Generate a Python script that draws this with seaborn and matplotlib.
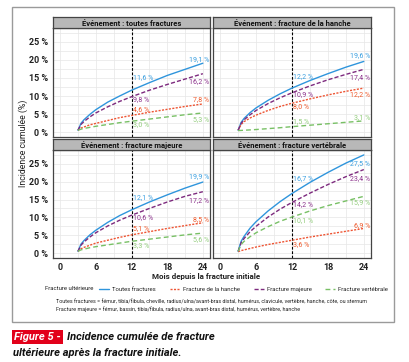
import numpy as np
import pandas as pd
import matplotlib
matplotlib.use("Agg")
import matplotlib.pyplot as plt
import seaborn as sns
from matplotlib.lines import Line2D
from matplotlib.patches import Rectangle

# months since the initial fracture
mois = [3, 3.5, 4, 5, 6, 8, 10, 12, 15, 18, 21, 24]

evenements = ["toutes fractures", "fracture de la hanche",
              "fracture majeure", "fracture vertébrale"]
series = ["Toutes fractures", "Fracture de la hanche",
          "Fracture majeure", "Fracture vertébrale"]

# Événement : toutes fractures
tf_toutes = [0.5, 2.4, 3.4, 4.9, 6.2, 8.3, 10.0, 11.6, 13.7, 15.7, 17.4, 19.1]
tf_hanche = [0.5, 1.1, 1.4, 2.0, 2.4, 3.2, 4.0, 4.6, 5.5, 6.3, 7.1, 7.8]
tf_majeure = [0.5, 2.1, 2.9, 4.2, 5.3, 7.0, 8.5, 9.8, 11.6, 13.2, 14.7, 16.2]
tf_vertebrale = [0.5, 0.8, 1.0, 1.3, 1.6, 2.1, 2.6, 3.0, 3.6, 4.2, 4.8, 5.3]
# Événement : fracture de la hanche
fh_toutes = [0.5, 2.7, 3.8, 5.4, 6.7, 8.8, 10.6, 12.2, 14.3, 16.2, 18.0, 19.6]
fh_hanche = [0.5, 2.1, 2.9, 3.9, 4.7, 6.0, 7.1, 8.0, 9.2, 10.3, 11.3, 12.2]
fh_majeure = [0.5, 2.4, 3.4, 4.8, 6.0, 7.9, 9.5, 10.9, 12.8, 14.5, 16.0, 17.4]
fh_vertebrale = [0.4, 0.45, 0.5, 0.6, 0.7, 0.95, 1.2, 1.5, 1.9, 2.3, 2.7, 3.1]
# Événement : fracture majeure
fm_toutes = [0.5, 2.5, 3.5, 5.1, 6.4, 8.6, 10.5, 12.1, 14.3, 16.3, 18.2, 19.9]
fm_hanche = [0.5, 1.2, 1.6, 2.2, 2.8, 3.6, 4.4, 5.1, 6.0, 6.9, 7.7, 8.5]
fm_majeure = [0.5, 2.2, 3.1, 4.5, 5.7, 7.6, 9.2, 10.6, 12.5, 14.3, 15.9, 17.2]
fm_vertebrale = [0.5, 0.9, 1.1, 1.5, 1.8, 2.3, 2.8, 3.3, 3.9, 4.5, 5.1, 5.6]
# Événement : fracture vertébrale
fv_toutes = [0.5, 3.3, 4.7, 7.0, 8.8, 11.8, 14.4, 16.7, 19.8, 22.6, 25.2, 27.5]
fv_hanche = [0.4, 0.7, 0.9, 1.3, 1.7, 2.4, 3.0, 3.6, 4.5, 5.3, 6.1, 6.9]
fv_majeure = [0.5, 2.9, 4.1, 6.0, 7.5, 10.1, 12.3, 14.2, 16.8, 19.2, 21.4, 23.4]
fv_vertebrale = [0.5, 2.4, 3.3, 4.6, 5.7, 7.4, 8.9, 10.1, 11.8, 13.3, 14.6, 15.9]

panel_data = {
    "toutes fractures": [tf_toutes, tf_hanche, tf_majeure, tf_vertebrale],
    "fracture de la hanche": [fh_toutes, fh_hanche, fh_majeure, fh_vertebrale],
    "fracture majeure": [fm_toutes, fm_hanche, fm_majeure, fm_vertebrale],
    "fracture vertébrale": [fv_toutes, fv_hanche, fv_majeure, fv_vertebrale],
}

rows = []
for ev, vals in panel_data.items():
    for s, v in zip(series, vals):
        for m, y in zip(mois, v):
            rows.append({"evenement": ev, "serie": s, "mois": m, "incidence": y})
df = pd.DataFrame(rows)

# label offsets (dy at 12 months, dy at 24 months), in % points
label_nudge = {
    "toutes fractures": [(3.4, 1.1), (1.7, 1.1), (-0.9, -2.2), (-1.0, -1.8)],
    "fracture de la hanche": [(3.3, 1.5), (-0.9, -1.8), (-0.5, -2.2), (1.5, 0.8)],
    "fracture majeure": [(3.3, 1.4), (1.8, 1.0), (-0.8, -2.4), (-1.2, -1.8)],
    "fracture vertébrale": [(4.2, -2.5), (-1.1, 0.8), (-0.6, -2.5), (-0.9, -1.9)],
}

palette = {"Toutes fractures": "#2f95dc", "Fracture de la hanche": "#ee5534",
           "Fracture majeure": "#7d2a7e", "Fracture vertébrale": "#78c065"}
text_colors = {"Toutes fractures": "#3a9fe0", "Fracture de la hanche": "#ef5a2c",
               "Fracture majeure": "#8a2f8a", "Fracture vertébrale": "#92cc7c"}
dashes = {"Toutes fractures": "", "Fracture de la hanche": (1.5, 1.0),
          "Fracture majeure": (3, 1.5), "Fracture vertébrale": (3.5, 2.2)}

sns.set_theme(style="white")
plt.rcParams["font.family"] = ["Roboto", "DejaVu Sans"]

W, H = 409, 362
fig = plt.figure(figsize=(W / 100, H / 100), dpi=100)


def box(l, t, r, b):
    return [l / W, 1 - b / H, (r - l) / W, (b - t) / H]


positions = [(53, 28, 210, 137), (213, 28, 371, 137),
             (53, 150, 210, 258), (213, 150, 371, 258)]

for i, ev in enumerate(evenements):
    l, t, r, b = positions[i]
    ax = fig.add_axes(box(l, t, r, b))
    sub = df[df["evenement"] == ev]
    sns.lineplot(data=sub, x="mois", y="incidence", hue="serie", style="serie",
                 hue_order=series, style_order=series, palette=palette,
                 dashes=dashes, linewidth=1.0, legend=False, ax=ax)
    ax.axvline(12, color="black", lw=0.8, ls=(0, (2.5, 1.5)), zorder=1)
    ax.set_xlim(-1.2, 25.2)
    ax.set_ylim(-1.375, 28.875)
    ax.set_xticks([0, 6, 12, 18, 24])
    ax.set_xticks([3, 9, 15, 21], minor=True)
    ax.set_yticks([0, 5, 10, 15, 20, 25])
    ax.set_yticks([2.5, 7.5, 12.5, 17.5, 22.5, 27.5], minor=True)
    ax.grid(which="both", color="#e6e6e6", lw=0.5)
    ax.set_axisbelow(True)
    ax.set_xlabel("")
    ax.set_ylabel("")
    for sp in ax.spines.values():
        sp.set_color("#444444")
        sp.set_linewidth(0.9)
    ax.tick_params(which="minor", length=0)
    ax.tick_params(which="major", length=2, width=0.6, color="#333333", pad=1.5,
                   labelsize=6.5)
    if i % 2 == 0:
        ax.set_yticklabels([f"{v} %" for v in [0, 5, 10, 15, 20, 25]],
                           fontweight="bold", color="#222222")
    else:
        ax.tick_params(axis="y", labelleft=False, length=0)
    if i >= 2:
        ax.set_xticklabels(["0", "6", "12", "18", "24"], fontweight="bold",
                           color="#222222")
    else:
        ax.tick_params(axis="x", labelbottom=False, length=0)

    # value labels at 12 and 24 months
    for s, vals, (d12, d24) in zip(series, panel_data[ev], label_nudge[ev]):
        v12 = vals[mois.index(12)]
        v24 = vals[mois.index(24)]
        c = text_colors[s]
        ax.text(12.2, v12 + d12, f"{v12:.1f} %".replace(".", ","), color=c,
                fontsize=5, ha="left", va="center")
        ax.text(25.0, v24 + d24, f"{v24:.1f} %".replace(".", ","), color=c,
                fontsize=5, ha="right", va="center")

    # facet strip
    sax = fig.add_axes(box(l, t - 11, r, t))
    sax.set_facecolor("#b8b8b8")
    sax.set_xticks([])
    sax.set_yticks([])
    for sp in sax.spines.values():
        sp.set_color("#444444")
        sp.set_linewidth(0.9)
    sax.text(0.5, 0.45, f"Événement : {ev}", ha="center", va="center",
             fontsize=5.5, fontweight="bold", color="#111111",
             transform=sax.transAxes)

# axis titles
fig.text(23 / W, 1 - 143 / H, "Incidence cumulée (%)", rotation=90,
         ha="center", va="center", fontsize=6.3, color="#222222")
fig.text(206 / W, 1 - 276 / H, "Mois depuis la fracture initiale",
         ha="center", va="center", fontsize=5.8, fontweight="bold",
         color="#222222")

# legend
fig.text(45 / W, 1 - 289 / H, "Fracture ultérieure", ha="left", va="center",
         fontsize=4.3, color="#222222")
handles = [Line2D([], [], color=palette[s], lw=1.0,
                  ls="-" if dashes[s] == "" else (0, dashes[s]))
           for s in series]
fig.legend(handles, series, ncol=4, loc="center left",
           bbox_to_anchor=(99 / W, 1 - 289 / H), frameon=False, fontsize=4.3,
           handlelength=1.7, handletextpad=0.5, columnspacing=2.3,
           borderaxespad=0, borderpad=0)

# notes
fig.text(56 / W, 1 - 302 / H,
         "Toutes fractures = fémur, tibia/fibula, cheville, radius/ulna/avant-bras distal, "
         "humérus, clavicule, vertèbre, hanche, côte, ou sternum",
         ha="left", va="center", fontsize=3.9, color="#222222")
fig.text(56 / W, 1 - 309 / H,
         "Fracture majeure = fémur, bassin, tibia/fibula, radius/ulna, avant-bras distal, "
         "humérus, vertèbre, hanche",
         ha="left", va="center", fontsize=3.9, color="#222222")

# outer frame
fig.add_artist(Rectangle((12 / W, 1 - 322 / H), (394 - 12) / W, (322 - 7) / H,
                         transform=fig.transFigure, fill=False,
                         ec="#9a9a9a", lw=1.0))

# caption
fig.text(14 / W, 1 - 337 / H, "Figure 5 -", ha="left", va="center",
         fontsize=8, fontweight="bold", fontstyle="italic", color="white",
         bbox=dict(facecolor="#e2001a", edgecolor="none", pad=1.6))
fig.text(67 / W, 1 - 337 / H, "Incidence cumulée de fracture", ha="left",
         va="center", fontsize=8, fontweight="bold", fontstyle="italic",
         color="#111111")
fig.text(13 / W, 1 - 353 / H, "ultérieure après la fracture initiale.",
         ha="left", va="center", fontsize=8, fontweight="bold",
         fontstyle="italic", color="#111111")

fig.savefig("out.png", dpi=100)
